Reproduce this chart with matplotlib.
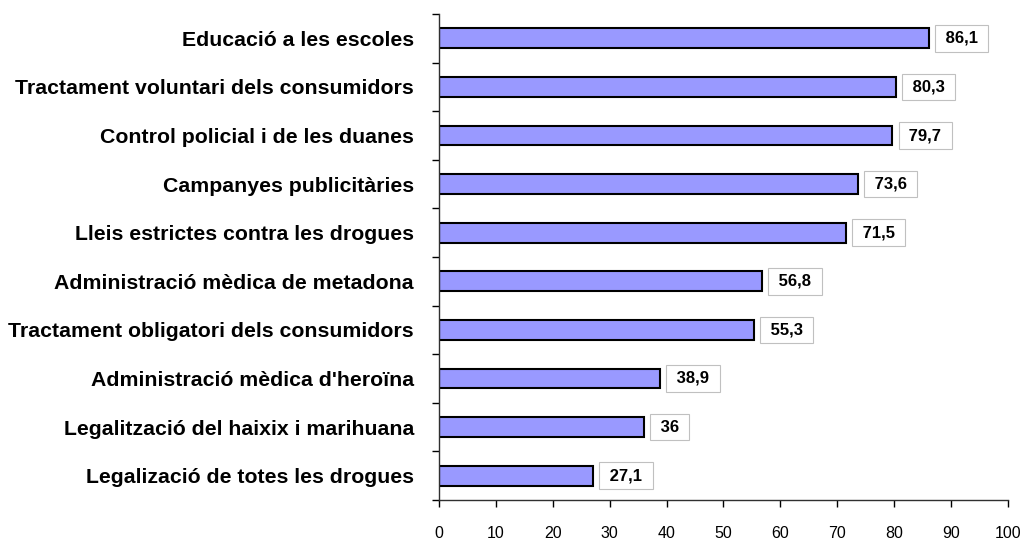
import matplotlib
matplotlib.use("Agg")
import matplotlib.pyplot as plt
import numpy as np

categories = [
    "Educació a les escoles",
    "Tractament voluntari dels consumidors",
    "Control policial i de les duanes",
    "Campanyes publicitàries",
    "Lleis estrictes contra les drogues",
    "Administració mèdica de metadona",
    "Tractament obligatori dels consumidors",
    "Administració mèdica d'heroïna",
    "Legalització del haixix i marihuana",
    "Legalizació de totes les drogues",
]
values = [86.1, 80.3, 79.7, 73.6, 71.5, 56.8, 55.3, 38.9, 36, 27.1]
value_labels = ["86,1", "80,3", "79,7", "73,6", "71,5", "56,8", "55,3", "38,9", "36", "27,1"]
xticks = [0, 10, 20, 30, 40, 50, 60, 70, 80, 90, 100]

plt.rcParams['font.family'] = ['Liberation Sans', 'DejaVu Sans']

fig = plt.figure(figsize=(10.25, 5.4), dpi=100)
ax = fig.add_axes([0.4283, 0.0741, 0.9834 - 0.4283, 0.974 - 0.0741])

n = len(categories)
ypos = np.arange(n)[::-1]
ax.barh(ypos, values, height=0.41, color="#9999FF", edgecolor="black", linewidth=1.5, zorder=2)

for y, v, lab in zip(ypos, values, value_labels):
    ax.annotate(" " + lab + " ", xy=(v, y), xytext=(8.6, 0), textcoords="offset points",
                ha="left", va="center", fontsize=12, fontweight="bold",
                bbox=dict(boxstyle="square,pad=0.35", fc="white", ec="#C0C0C0", lw=0.8))

ax.set_xlim(0, 100)
ax.set_ylim(-0.5, n - 0.5)
ax.set_xticks(xticks)
ax.set_xticklabels([str(t) for t in xticks], fontsize=11.5)
ax.set_yticks(ypos)
ax.set_yticklabels(categories, fontsize=15.3, fontweight="bold")
ax.set_yticks(np.arange(n + 1) - 0.5, minor=True)
ax.tick_params(axis="y", which="major", length=0, pad=18)
ax.tick_params(axis="y", which="minor", length=5, width=1, direction="out")
ax.tick_params(axis="x", which="major", length=5, width=1, direction="out", pad=14)

for s in ["top", "right"]:
    ax.spines[s].set_visible(False)
for s in ["left", "bottom"]:
    ax.spines[s].set_color("#303030")
    ax.spines[s].set_linewidth(1)

fig.savefig("out.png", dpi=100)
